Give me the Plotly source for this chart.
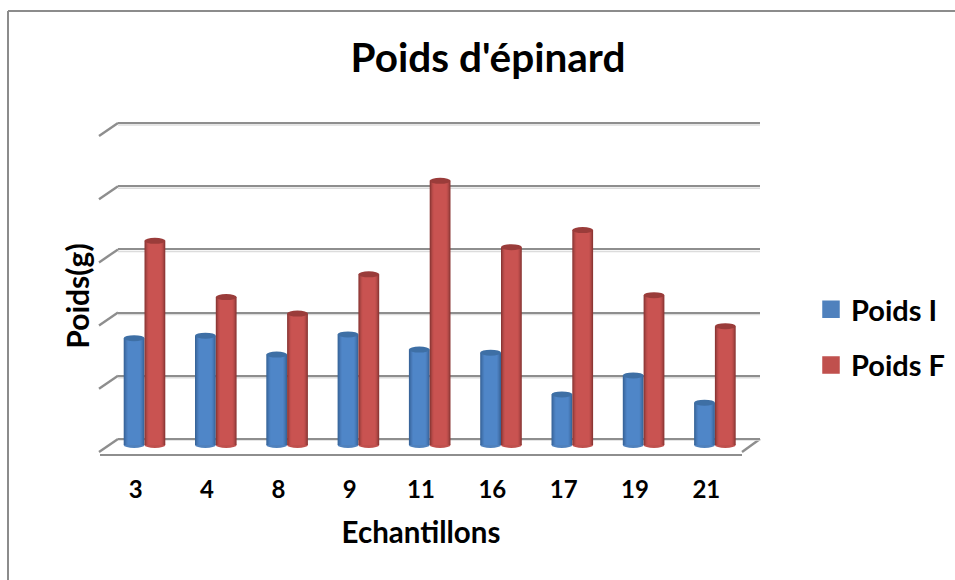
import plotly.graph_objects as go

categories = ["3", "4", "8", "9", "11", "16", "17", "19", "21"]
poids_i = [1.69, 1.73, 1.43, 1.75, 1.51, 1.46, 0.80, 1.10, 0.67]
poids_f = [3.23, 2.34, 2.08, 2.70, 4.18, 3.13, 3.40, 2.37, 1.88]

W, H = 955, 580
FONT = "Lato"
GRID = "#8e8e8e"
SHADOW = "#dcdcdc"
BLACK = "#000000"
UNIT_PX = 63.2
BAND_PX = 71.3
HALF_BAR = 10.4 / BAND_PX
BAR = 2 * HALF_BAR
CAP = 3.0 / UNIT_PX
LEVELS = 5
PAD_PX = 2  # room so the lines at the ends of the wall are not clipped
PAD = PAD_PX / UNIT_PX
FOOT_PX = 6
FOOT = FOOT_PX / UNIT_PX


def px(v):
    return v / W


def py(v):
    return 1 - v / H


blue_ramp = ["#38659a", "#3f6fa8", "#4778b5", "#4c80c0", "#4f86c8"]
red_ramp = ["#8c3634", "#a04240", "#b54a48", "#c2504e", "#c95351"]
series = [
    ("Poids I", poids_i, -BAR, blue_ramp, "#4f81bd", "#3e6fa5"),
    ("Poids F", poids_f, 0.0, red_ramp, "#c0504d", "#9a3c3a"),
]

xs = list(range(len(categories)))
fig = go.Figure()

# invisible traces that make the front plane and back wall axes exist
fig.add_trace(go.Scatter(x=xs, y=[0] * len(xs), mode="markers", opacity=0, showlegend=False,
                         hoverinfo="skip", xaxis="x", yaxis="y"))
fig.add_trace(go.Scatter(x=xs, y=[0] * len(xs), mode="markers", opacity=0, showlegend=False,
                         hoverinfo="skip", xaxis="x2", yaxis="y2"))

shapes = []
for lvl in range(LEVELS + 1):
    shapes.append(dict(type="line", xref="x2", yref="y2", layer="below",
                       x0=-0.5, x1=8.5, y0=lvl - 2 / UNIT_PX, y1=lvl - 2 / UNIT_PX,
                       line=dict(color=SHADOW, width=1.5)))

for name, values, start, ramp, base, cap in series:
    step = 1 / BAND_PX
    for k, color in enumerate(ramp):
        inset = k * step
        fig.add_trace(go.Bar(
            x=xs, y=values, name=name, showlegend=False,
            offset=start + inset, width=BAR - 2 * inset,
            marker=dict(color=color, line=dict(width=0)),
            xaxis="x3", yaxis="y3",
        ))
    for i, v in zip(xs, values):
        cx = i + start + HALF_BAR
        # rounded foot of the cylinder
        shapes.append(dict(type="circle", xref="x3", yref="y3", layer="below",
                           x0=cx - HALF_BAR, x1=cx + HALF_BAR, y0=-CAP, y1=CAP,
                           fillcolor=base, line=dict(width=0)))
        # top cap
        shapes.append(dict(type="circle", xref="x3", yref="y3", layer="above",
                           x0=cx - HALF_BAR, x1=cx + HALF_BAR, y0=v - CAP, y1=v + CAP,
                           fillcolor=cap, line=dict(width=0)))

for name, values, start, ramp, base, cap in series:
    fig.add_trace(go.Scatter(
        x=[None], y=[None], mode="markers", name=name, legendgroup=name,
        marker=dict(symbol="square", size=16, color=base, line=dict(width=1.5, color=base)),
        xaxis="x3", yaxis="y3",
    ))

# side wall and floor edges of the 3D box
line = dict(color=GRID, width=2.4)
for lvl in range(LEVELS + 1):
    y_back = 439 - lvl * UNIT_PX
    shapes.append(dict(type="line", xref="paper", yref="paper", layer="below",
                       x0=px(99), x1=px(118), y0=py(y_back + 13), y1=py(y_back), line=line))
shapes.append(dict(type="line", xref="paper", yref="paper", layer="below",
                   x0=px(742), x1=px(760), y0=py(452), y1=py(439), line=line))
# chart frame, open on the right and bottom edges of the crop
frame = dict(color="#8c8c8c", width=2)
shapes.append(dict(type="line", xref="paper", yref="paper", x0=px(8), x1=1, y0=py(11), y1=py(11), line=frame))
shapes.append(dict(type="line", xref="paper", yref="paper", x0=px(8), x1=px(8), y0=py(11), y1=0, line=frame))

fig.update_layout(
    width=W, height=H, autosize=False,
    margin=dict(l=0, r=0, t=0, b=0),
    paper_bgcolor="white", plot_bgcolor="rgba(0,0,0,0)",
    barmode="overlay", shapes=shapes,
    font=dict(family=FONT, color=BLACK),
    title=dict(text="<b>Poids d'épinard</b>", font=dict(family=FONT, size=40.5, color=BLACK),
               x=px(488), xanchor="center", y=py(58), yanchor="middle"),
    legend=dict(x=px(811), xanchor="left", y=py(284), yanchor="top",
                font=dict(family=FONT, size=29, color=BLACK, weight="bold"),
                bgcolor="rgba(0,0,0,0)", tracegroupgap=15),
    xaxis=dict(domain=[px(100), px(742)], range=[-0.5, 8.5], tickmode="array",
               tickvals=xs, ticktext=categories, showgrid=False, zeroline=False,
               showline=True, linecolor=GRID, linewidth=2.4, ticks="outside", ticklen=13,
               tickcolor="rgba(0,0,0,0)",
               tickfont=dict(family=FONT, size=24, color=BLACK, weight="bold"),
               title=dict(text="<b>Echantillons</b>", font=dict(family=FONT, size=29.5, color=BLACK), standoff=20),
               anchor="y", fixedrange=True),
    yaxis=dict(domain=[py(454), py(454 - LEVELS * UNIT_PX)], range=[0, LEVELS], showgrid=False,
               zeroline=False, showticklabels=False, ticks="",
               title=dict(text="<b>Poids(g)</b>", font=dict(family=FONT, size=30, color=BLACK), standoff=0),
               anchor="x", fixedrange=True, visible=True),
    xaxis2=dict(domain=[px(118), px(760)], range=[-0.5, 8.5], showgrid=False, zeroline=False,
                showticklabels=False, ticks="", anchor="y2", fixedrange=True),
    yaxis2=dict(domain=[py(439 + PAD_PX), py(439 - LEVELS * UNIT_PX - PAD_PX)],
                range=[-PAD, LEVELS + PAD], dtick=1, tick0=0,
                showgrid=True, gridcolor=GRID, gridwidth=2.4, zeroline=False,
                showticklabels=False, ticks="", anchor="x2", fixedrange=True),
    xaxis3=dict(domain=[px(108.85), px(108.85 + 9 * BAND_PX)], range=[-0.5, 8.5], showgrid=False,
                zeroline=False, showticklabels=False, ticks="", anchor="y3", fixedrange=True),
    yaxis3=dict(domain=[py(445 + FOOT_PX), py(445 - LEVELS * UNIT_PX)], range=[-FOOT, LEVELS], showgrid=False,
                zeroline=False, showticklabels=False, ticks="", anchor="x3", fixedrange=True),
)

fig.write_html("out.html", config={"displayModeBar": False},
               post_script="document.body.style.margin='0';")
